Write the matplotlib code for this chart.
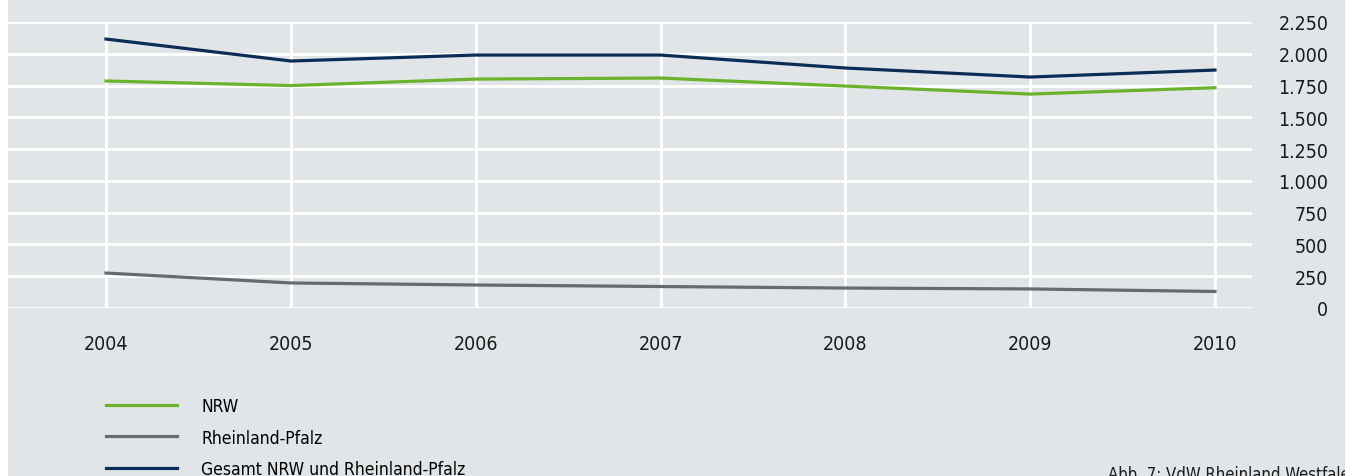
import matplotlib.pyplot as plt
from matplotlib.patches import Rectangle
from matplotlib.ticker import FuncFormatter

years = [2004, 2005, 2006, 2007, 2008, 2009, 2010]
nrw = [1786, 1750, 1801, 1809, 1746, 1683, 1733]
rheinlandPfalz = [275, 197, 181, 169, 157, 150, 130]
gesamt = [2116, 1943, 1990, 1990, 1888, 1817, 1872]

seriesLabels = ['NRW', 'Rheinland-Pfalz', 'Gesamt NRW und Rheinland-Pfalz']
seriesColors = ['#6ab42d', '#646b71', '#0b2c56']
yTicks = [0, 250, 500, 750, 1000, 1250, 1500, 1750, 2000, 2250]

plt.rcParams['font.family'] = ['DejaVu Sans']
plt.rcParams['font.stretch'] = 'condensed'
bgColor = '#e1e5e8'
textSize = 14

W, H = 1345, 477
fig = plt.figure(figsize=(W / 100, H / 100), dpi=100, facecolor='white')
# grey panel behind everything, leaving a thin white strip on the left
fig.patches.append(Rectangle((8 / W, 0), 1 - 8 / W, 1, transform=fig.transFigure,
                             facecolor=bgColor, edgecolor='none', zorder=-10))

ax = fig.add_axes([8 / W, 1 - 309 / H, (1252 - 8) / W, (309 - 23) / H])
ax.patch.set_alpha(0)

for values, color, label in zip([nrw, rheinlandPfalz, gesamt], seriesColors, seriesLabels):
    ax.plot(years, values, color=color, linewidth=2.3, label=label, zorder=3)

ax.set_ylim(0, 2250)
ax.set_xlim(2004 - 98 / 184.8, 2010 + 37 / 184.8)
ax.set_yticks(yTicks)
ax.set_xticks(years)
ax.yaxis.set_major_formatter(FuncFormatter(lambda v, p: f'{int(v):,}'.replace(',', '.')))
ax.yaxis.tick_right()
ax.tick_params(axis='y', length=0, pad=55, labelsize=textSize, colors='#1a1a1a')
for t in ax.get_yticklabels():
    t.set_horizontalalignment('right')
ax.tick_params(axis='x', length=0, pad=19, labelsize=textSize, colors='#1a1a1a')

ax.grid(True, color='white', linewidth=2)
ax.set_axisbelow(True)
for s in ax.spines.values():
    s.set_visible(False)

fig.legend(loc='upper left', bbox_to_anchor=(106 / W, 1 - 398 / H), frameon=False,
           fontsize=12.5, handlelength=4.1, handletextpad=1.4, labelspacing=0.78,
           borderaxespad=0, borderpad=0)

fig.text(1108 / W, 1 - 466 / H, 'Abb. 7: VdW Rheinland Westfalen', fontsize=12,
         color='#1a1a1a', va='top', ha='left')

fig.savefig('out.png', dpi=100, facecolor='white')
